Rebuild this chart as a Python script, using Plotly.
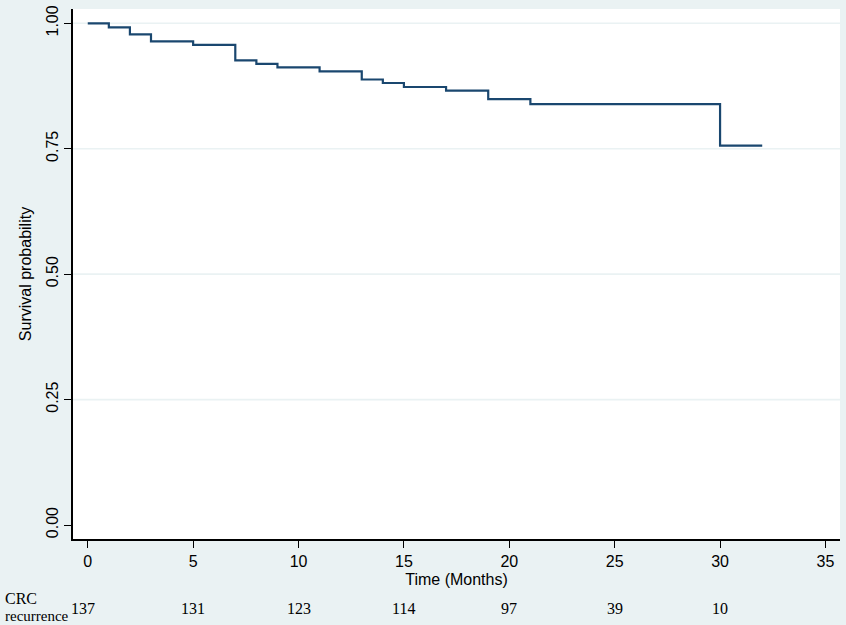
import plotly.graph_objects as go

# Kaplan-Meier step data
time_months = [0, 1, 2, 3, 5, 7, 8, 9, 11, 13, 14, 15, 17, 19, 21, 30, 32]
survival = [1.0, 0.992, 0.978, 0.964, 0.957, 0.926, 0.919, 0.912, 0.904,
            0.888, 0.881, 0.873, 0.866, 0.849, 0.839, 0.756, 0.756]

# Number at risk table
risk_times = [0, 5, 10, 15, 20, 25, 30]
risk_counts = [137, 131, 123, 114, 97, 39, 10]

x_ticks = [0, 5, 10, 15, 20, 25, 30, 35]
y_ticks = [0.0, 0.25, 0.5, 0.75, 1.0]
y_ticktext = ["0.00", "0.25", "0.50", "0.75", "1.00"]

BG = "#EAF2F3"
LINE = "#1A476F"
SANS = "Liberation Sans, Arial, sans-serif"
SERIF = "Liberation Serif, Times New Roman, serif"

fig = go.Figure()
fig.add_trace(go.Scatter(
    x=time_months, y=survival, mode="lines", line_shape="hv",
    line=dict(color=LINE, width=2.2), showlegend=False, hoverinfo="skip"))

# grid lines (Stata style: none at the bottom tick)
for yv in y_ticks[1:]:
    fig.add_shape(type="line", xref="paper", x0=0, x1=1, yref="y", y0=yv, y1=yv,
                  line=dict(color=BG, width=1.6), layer="below")

# number at risk row
for i, (t, n) in enumerate(zip(risk_times, risk_counts)):
    fig.add_annotation(x=t, xref="x", y=0, yref="paper", yanchor="middle",
                       yshift=-69, xshift=(-5 if i == 0 else 0),
                       text=str(n), showarrow=False,
                       font=dict(family=SERIF, size=16, color="black"))
fig.add_annotation(x=0, xref="paper", xanchor="left", xshift=-70, y=0, yref="paper",
                   yanchor="middle", yshift=-59, text="CRC", showarrow=False,
                   font=dict(family=SERIF, size=16, color="black"))
fig.add_annotation(x=0, xref="paper", xanchor="left", xshift=-70, y=0, yref="paper",
                   yanchor="middle", yshift=-77, text="recurrence", showarrow=False,
                   font=dict(family=SERIF, size=15, color="black"))

fig.update_layout(
    width=846, height=625,
    paper_bgcolor=BG, plot_bgcolor="white",
    margin=dict(l=73, r=6, t=9, b=86),
    font=dict(family=SANS, size=16, color="black"),
    xaxis=dict(range=[-0.70, 35.69], tickvals=x_ticks, showgrid=False, zeroline=False,
               showline=True, linecolor="black", linewidth=1.5,
               ticks="outside", ticklen=7, tickwidth=1.3, tickcolor="black",
               tickfont=dict(family=SANS, size=16),
               title=dict(text="Time (Months)", standoff=5,
                          font=dict(family=SANS, size=16))),
    yaxis=dict(range=[-0.0279, 1.0285], tickvals=y_ticks, ticktext=y_ticktext,
               tickangle=-90, showgrid=False, zeroline=False,
               showline=True, linecolor="black", linewidth=1.5,
               ticks="outside", ticklen=7, tickwidth=1.3, tickcolor="black",
               tickfont=dict(family=SANS, size=16),
               title=dict(text="Survival probability", standoff=8,
                          font=dict(family=SANS, size=16))),
)

fig.write_html("out.html", config={"displayModeBar": False},
               post_script="document.body.style.margin='0';document.body.style.overflow='hidden';")
